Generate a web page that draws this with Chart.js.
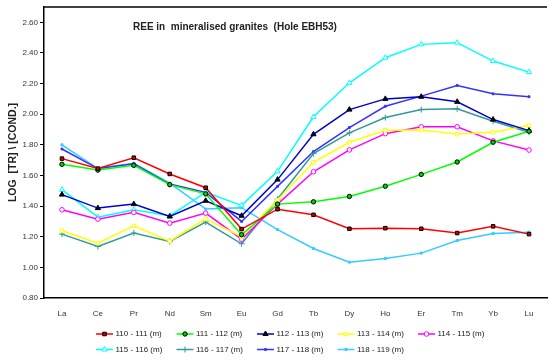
<!DOCTYPE html>
<html>
<head>
<meta charset="utf-8">
<script src="https://cdn.jsdelivr.net/npm/chart.js@4/dist/chart.umd.min.js"></script>
<style>
  html, body { margin: 0; padding: 0; background: #fff; overflow: hidden; }
  #wrap { width: 552px; height: 361px; }
</style>
</head>
<body>
<div id="wrap"><canvas id="grafik"></canvas></div>
<script>
const unsur = ['La', 'Ce', 'Pr', 'Nd', 'Sm', 'Eu', 'Gd', 'Tb', 'Dy', 'Ho', 'Er', 'Tm', 'Yb', 'Lu'];
const label = ['110 - 111 (m)', '111 - 112 (m)', '112 - 113 (m)', '113 - 114 (m)', '114 - 115 (m)',
               '115 - 116 (m)', '116 - 117 (m)', '117 - 118 (m)', '118 - 119 (m)'];

const d110 = [1.71, 1.645, 1.716, 1.61, 1.52, 1.25, 1.38, 1.343, 1.252, 1.256, 1.252, 1.224, 1.268, 1.217];
const d111 = [1.673, 1.635, 1.666, 1.54, 1.48, 1.213, 1.413, 1.428, 1.463, 1.53, 1.607, 1.688, 1.817, 1.889];
const d112 = [1.475, 1.387, 1.413, 1.332, 1.435, 1.337, 1.573, 1.869, 2.03, 2.10, 2.114, 2.081, 1.965, 1.893];
const d113 = [1.239, 1.158, 1.271, 1.171, 1.317, 1.20, 1.44, 1.686, 1.817, 1.895, 1.897, 1.87, 1.883, 1.926];
const d114 = [1.376, 1.315, 1.359, 1.289, 1.354, 1.184, 1.413, 1.624, 1.767, 1.873, 1.918, 1.918, 1.826, 1.766];
const d115 = [1.507, 1.328, 1.376, 1.337, 1.49, 1.405, 1.627, 1.983, 2.205, 2.369, 2.456, 2.467, 2.347, 2.275];
const d116 = [1.217, 1.136, 1.224, 1.169, 1.296, 1.154, 1.446, 1.743, 1.878, 1.978, 2.03, 2.035, 1.954, 1.882];
const d117 = [1.773, 1.645, 1.677, 1.544, 1.49, 1.30, 1.529, 1.756, 1.913, 2.052, 2.118, 2.188, 2.133, 2.114];
const d118 = [1.80, 1.645, 1.68, 1.55, 1.381, 1.39, 1.247, 1.123, 1.034, 1.058, 1.093, 1.175, 1.221, 1.23];

const yTicks = [0.8, 1.0, 1.2, 1.4, 1.6, 1.8, 2.0, 2.2, 2.4, 2.6];

const FONT = "'Liberation Sans Narrow', 'Arial Narrow', 'Liberation Sans', Arial, sans-serif";

function seri(lbl, data, garis, bentuk, isi, tepi, r) {
  return {
    label: lbl,
    data: data,
    borderColor: garis,
    borderWidth: 1.5,
    tension: 0,
    pointStyle: bentuk,
    pointRadius: r,
    pointBackgroundColor: isi,
    pointBorderColor: tepi,
    pointBorderWidth: 1
  };
}

const datasets = [
  seri(label[0], d110, '#FF0000', 'rect', '#CC0000', '#000000', 2.5),
  seri(label[1], d111, '#00FF00', 'circle', '#00CC00', '#000000', 2.2),
  seri(label[2], d112, '#0000CC', 'triangle', '#000033', '#000000', 3),
  seri(label[3], d113, '#FFFF00', 'rect', '#FFFFFF', '#FFFF00', 2.5),
  seri(label[4], d114, '#FF00FF', 'circle', '#FFFFFF', '#FF00FF', 2.3),
  seri(label[5], d115, '#00FFFF', 'triangle', '#FFFFFF', '#00FFFF', 3),
  seri(label[6], d116, '#339999', 'cross', '#339999', '#339999', 3),
  seri(label[7], d117, '#3333FF', 'rect', '#3333FF', '#3333FF', 1.3),
  seri(label[8], d118, '#33CCFF', 'rect', '#33CCFF', '#33CCFF', 1.4)
];

// judul di dalam area plot + garis atas bingkai
const judulPlugin = {
  id: 'judul',
  afterDraw(chart) {
    const ctx = chart.ctx;
    const a = chart.chartArea;
    ctx.save();
    ctx.strokeStyle = '#000';
    ctx.lineWidth = 1.5;
    ctx.beginPath();
    ctx.moveTo(a.left, a.top);
    ctx.lineTo(a.right, a.top);
    ctx.stroke();
    ctx.fillStyle = '#222';
    ctx.font = 'bold 10px ' + FONT;
    ctx.textAlign = 'left';
    ctx.textBaseline = 'middle';
    ctx.fillText('REE in  mineralised granites  (Hole EBH53)', a.left + 89, a.top + 20);
    ctx.restore();
  }
};

// legenda dua baris, kolom rata kiri
const legendaPlugin = {
  id: 'legenda',
  afterDraw(chart) {
    const ctx = chart.ctx;
    const a = chart.chartArea;
    ctx.save();
    ctx.font = '8px ' + FONT;
    ctx.textBaseline = 'middle';
    ctx.textAlign = 'left';
    chart.data.datasets.forEach((ds, i) => {
      const kol = i % 5;
      const baris = Math.floor(i / 5);
      const x = a.left + 52 + kol * 80.5;
      const y = a.bottom + 36 + baris * 15.5;
      ctx.strokeStyle = ds.borderColor;
      ctx.lineWidth = 1.5;
      ctx.beginPath();
      ctx.moveTo(x, y);
      ctx.lineTo(x + 17, y);
      ctx.stroke();
      ctx.fillStyle = ds.pointBackgroundColor;
      ctx.strokeStyle = ds.pointBorderColor;
      ctx.lineWidth = 1;
      Chart.helpers.drawPoint(ctx, {
        pointStyle: ds.pointStyle, radius: ds.pointRadius, rotation: 0, borderWidth: 1
      }, x + 8.5, y);
      ctx.fillStyle = '#222';
      ctx.fillText(ds.label, x + 19.5, y);
    });
    ctx.restore();
  }
};

const ctx = document.getElementById('grafik').getContext('2d');
new Chart(ctx, {
  type: 'line',
  data: { labels: unsur, datasets: datasets },
  plugins: [judulPlugin, legendaPlugin],
  options: {
    responsive: true,
    maintainAspectRatio: false,
    animation: false,
    devicePixelRatio: 1,
    layout: { padding: { top: 7, right: 1, left: 0, bottom: 0 } },
    plugins: {
      legend: { display: false },
      tooltip: { enabled: false }
    },
    scales: {
      x: {
        type: 'category',
        offset: true,
        grid: { display: false, drawTicks: false },
        border: { display: true, color: '#000', width: 1.5 },
        ticks: { color: '#333', font: { family: FONT, size: 8 }, padding: 11, maxRotation: 0, autoSkip: false },
        afterFit(scale) { scale.height = 63; }
      },
      y: {
        min: 0.8,
        max: 2.7,
        bounds: 'data',
        grid: { display: true, drawOnChartArea: false, drawTicks: true, tickLength: 4, color: '#000', lineWidth: 1 },
        border: { display: true, color: '#000', width: 1.5 },
        ticks: {
          stepSize: 0.2,
          includeBounds: false,
          color: '#333',
          font: { family: FONT, size: 8 },
          padding: 2,
          callback: v => v.toFixed(2)
        },
        afterBuildTicks(scale) {
          scale.ticks = yTicks.map(v => ({ value: v }));
        },
        title: {
          display: true,
          text: 'LOG  [TR] \\ [COND.]',
          color: '#222',
          font: { family: "'Liberation Sans', Arial, sans-serif", size: 10.5, weight: 'bold' },
          padding: { top: 7, bottom: 0 }
        },
        afterFit(scale) { scale.width = 44; }
      }
    }
  }
});
</script>
</body>
</html>
